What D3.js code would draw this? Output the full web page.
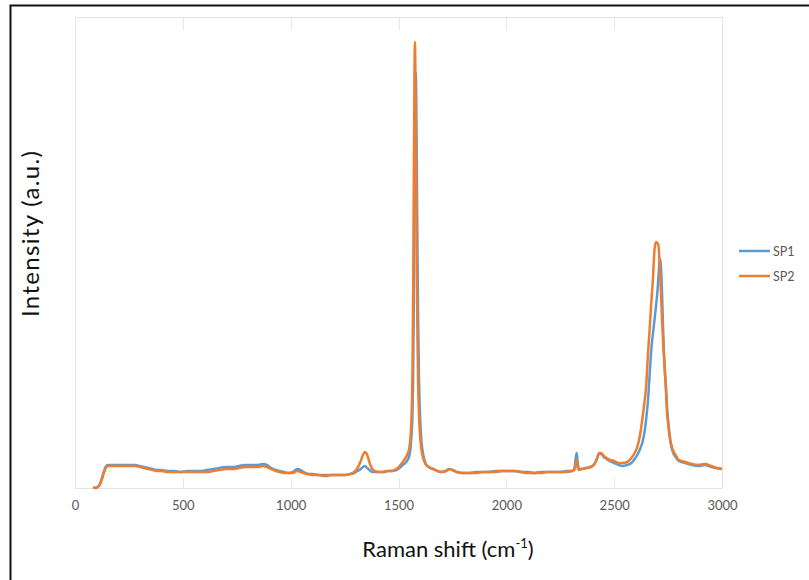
<!DOCTYPE html>
<html>
<head>
<meta charset="utf-8">
<script src="https://cdn.jsdelivr.net/npm/d3@7"></script>
<style>
  html, body { margin: 0; padding: 0; background: #fff; }
  svg { display: block; }
</style>
</head>
<body>
<svg id="chart" width="809" height="580"></svg>
<script>
// ---- data ----
const ramanShift = [85,95,105,115,125,135,145,155,170,185,200,220,240,260,280,300,320,340,360,380,400,430,460,490,520,550,580,610,640,670,700,730,760,790,820,850,870,890,910,930,950,970,990,1010,1030,1045,1060,1080,1100,1130,1160,1190,1220,1250,1275,1295,1310,1325,1335,1345,1355,1365,1378,1390,1410,1430,1450,1470,1490,1505,1520,1532,1542,1550,1556,1561,1565,1568,1571,1574,1576,1578,1580,1582,1585,1588,1591,1595,1600,1606,1614,1625,1640,1660,1680,1700,1720,1736,1750,1770,1800,1830,1860,1890,1920,1950,1980,2010,2040,2070,2100,2130,2160,2190,2220,2250,2280,2305,2315,2322,2326,2330,2336,2350,2370,2390,2405,2418,2430,2440,2452,2465,2480,2500,2520,2540,2560,2580,2595,2607,2620,2630,2640,2648,2657,2665,2672,2680,2687,2694,2700,2705,2710,2714,2718,2722,2726,2731,2736,2740,2745,2750,2758,2769,2785,2800,2830,2860,2890,2920,2950,2975,3000];

const sp1 = [1,0,1,4,10,17,22,23,23,23,23,23,23,23,23,22,21,20,19,18,18,17,17,16,17,17,17,18,19,20,21,21,22,23,23,23,24,23,20,18,17,16,15,16,19,18,16,14,14,13,13,13,13,13,14,15,17,19,21,22,20,18,16,16,16,16,17,17,18,20,23,25,28,32,40,55,75,115,185,280,340,385,416,395,320,240,170,110,72,48,34,25,21,19,17,16,17,19,18,16,15,15,16,16,16,17,17,17,17,16,16,15,16,16,16,16,17,17,19,30,35,28,19,19,20,21,23,28,34,34,31,29,27,25,23,22,23,25,29,33,39,45,55,68,88,115,138,155,168,182,195,210,225,229,218,195,165,135,115,100,82,68,52,38,31,27,25,23,22,23,21,20,19];

const sp2 = [1,0,1,3,9,16,21,22,22,22,22,22,22,22,22,21,20,19,18,17,17,16,16,16,16,16,16,16,17,18,19,19,20,21,21,21,22,21,19,17,16,15,15,15,17,16,15,14,13,13,12,13,13,13,14,16,20,27,33,36,33,26,19,17,16,16,17,17,19,22,26,30,34,40,52,75,120,200,310,410,446,425,370,300,215,150,105,72,52,39,30,24,21,19,17,16,17,19,18,16,15,15,15,16,16,16,17,17,17,16,15,15,15,16,16,16,16,17,18,24,28,22,18,19,20,21,23,28,35,35,32,30,28,27,25,25,26,30,35,41,53,68,85,101,135,160,185,210,238,246,245,243,228,210,190,168,150,130,112,100,75,65,50,40,33,28,26,24,23,24,22,20,19];

const seriesNames = ["SP1", "SP2"];
const xTicks = [0, 500, 1000, 1500, 2000, 2500, 3000];
const xTitle = "Raman shift (cm";
const yTitle = "Intensity (a.u.)";

// ---- layout ----
const svg = d3.select("#chart");
const plot = { left: 75, right: 722, top: 17, bottom: 488 };
const colors = ["#5B9BD5", "#ED7D31"];
const font = "Lato, 'Open Sans', sans-serif";

// outer frame
svg.append("rect")
  .attr("x", 10.5).attr("y", 5.5)
  .attr("width", 830).attr("height", 620)
  .attr("fill", "none").attr("stroke", "#111").attr("stroke-width", 2);

const x = d3.scaleLinear().domain([0, 3000]).range([plot.left, plot.right]);
const y = d3.scaleLinear().domain([0, 471]).range([plot.bottom, plot.top]);

// plot area border
svg.append("rect")
  .attr("x", plot.left + 0.5).attr("y", plot.top + 0.5)
  .attr("width", plot.right - plot.left).attr("height", plot.bottom - plot.top)
  .attr("fill", "none").attr("stroke", "#e3e3e3").attr("stroke-width", 1);

// small tick stubs at top and bottom
const stubs = svg.append("g");
xTicks.slice(1, -1).forEach(t => {
  stubs.append("line")
    .attr("x1", Math.round(x(t)) + 0.5).attr("x2", Math.round(x(t)) + 0.5)
    .attr("y1", plot.top).attr("y2", plot.top + 13)
    .attr("stroke", "#e6e6e6");
  stubs.append("line")
    .attr("x1", Math.round(x(t)) + 0.5).attr("x2", Math.round(x(t)) + 0.5)
    .attr("y1", plot.bottom - 10).attr("y2", plot.bottom)
    .attr("stroke", "#e6e6e6");
});

// x axis tick labels
const xAxis = d3.axisBottom(x).tickValues(xTicks).tickSize(0).tickPadding(13)
  .tickFormat(d3.format("d"));
const gx = svg.append("g").attr("transform", `translate(0,${plot.bottom})`).call(xAxis);
gx.select(".domain").remove();
gx.selectAll("text").attr("fill", "#595959").style("font-family", font).style("font-size", "13px");

// lines
const line = d3.line().x((d, i) => x(ramanShift[i])).y(d => y(d)).curve(d3.curveMonotoneX);
[sp1, sp2].forEach((s, k) => {
  svg.append("path")
    .datum(s)
    .attr("d", line)
    .attr("fill", "none")
    .attr("stroke", colors[k])
    .attr("stroke-width", 2.5)
    .attr("stroke-linejoin", "round");
});

// legend
const lg = svg.append("g");
seriesNames.forEach((n, k) => {
  const ly = 251 + k * 25;
  lg.append("line").attr("x1", 739).attr("x2", 770).attr("y1", ly).attr("y2", ly)
    .attr("stroke", colors[k]).attr("stroke-width", 2.5);
  lg.append("text").attr("x", 773).attr("y", ly + 4.5)
    .attr("fill", "#595959").style("font-family", font).style("font-size", "12.5px").text(n);
});

// axis titles
const xt = svg.append("text")
  .attr("x", 448).attr("y", 557).attr("text-anchor", "middle")
  .attr("fill", "#111").style("font-family", font).style("font-size", "22px");
xt.append("tspan").text(xTitle);
xt.append("tspan").attr("dy", -9).style("font-size", "13px").text("-1");
xt.append("tspan").attr("dy", 9).text(")");

svg.append("text")
  .attr("transform", "translate(39,234) rotate(-90)")
  .attr("text-anchor", "middle")
  .attr("textLength", 166).attr("lengthAdjust", "spacing")
  .attr("fill", "#111").style("font-family", font).style("font-size", "24px")
  .text(yTitle);
</script>
</body>
</html>
